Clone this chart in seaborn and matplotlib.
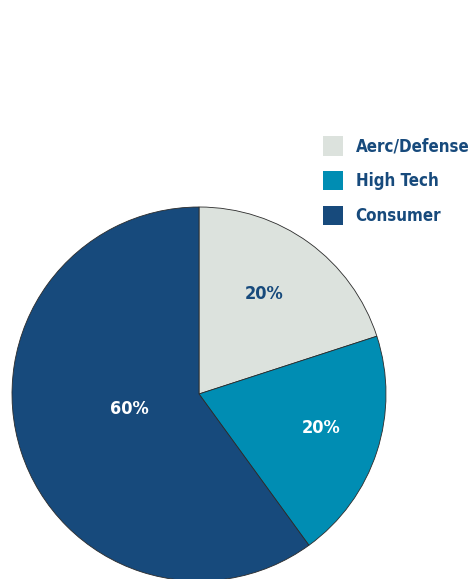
import matplotlib
matplotlib.use("Agg")
import matplotlib.pyplot as plt
import seaborn as sns
import numpy as np

categories = ["Aerc/Defense", "High Tech", "Consumer"]
values = [20, 20, 60]
pct_labels = ["20%", "20%", "60%"]
colors = ["#dce2dd", "#008db3", "#174a7c"]
label_colors = ["#174a7c", "white", "white"]

sns.set_theme(style="white")
plt.rcParams["font.family"] = ["DejaVu Sans"]
plt.rcParams["font.stretch"] = "condensed"

fig = plt.figure(figsize=(4.71, 5.79), dpi=100)
ax = fig.add_axes([0, 0, 1, 1])

wedges, _ = ax.pie(values, colors=colors, startangle=90, counterclock=False,
                   center=(199, 185), radius=187, frame=True,
                   wedgeprops=dict(edgecolor="#2b2b2b", linewidth=0.6))
ax.set_xlim(0, 471)
ax.set_ylim(0, 579)
ax.set_aspect("equal")
ax.axis("off")

dists = [0.64, 0.68, 0.38]
ang_off = [3, 2.4, -6]
for i, w in enumerate(wedges):
    ang = np.deg2rad((w.theta1 + w.theta2) / 2 + ang_off[i])
    x = 199 + 187 * dists[i] * np.cos(ang)
    y = 185 + 187 * dists[i] * np.sin(ang)
    ax.text(x, y, pct_labels[i], ha="center", va="center", fontsize=13,
            fontweight="bold", fontstretch="condensed", color=label_colors[i])

leg = ax.legend(wedges, categories, loc="upper left",
                bbox_to_anchor=(323 / 471, 1 - 136 / 579),
                bbox_transform=fig.transFigure, frameon=False,
                prop=dict(size=12.2, weight="bold", stretch="condensed"),
                handlelength=1.2, handleheight=1.4, handletextpad=0.72,
                labelspacing=0.9, borderaxespad=0, borderpad=0)
for t in leg.get_texts():
    t.set_color("#174a7c")
for h in leg.legend_handles:
    h.set_edgecolor("none")

fig.savefig("out.png", dpi=100)
